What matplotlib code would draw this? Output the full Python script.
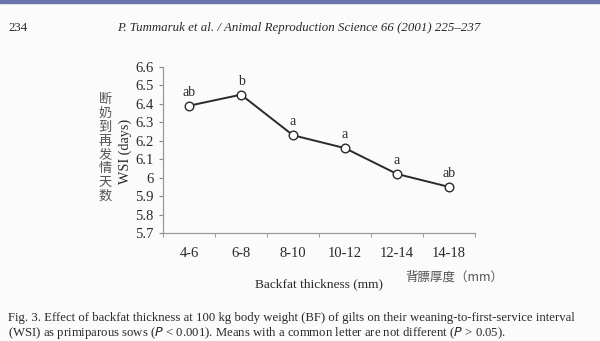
import matplotlib
matplotlib.use("Agg")
import matplotlib.pyplot as plt
from matplotlib.ticker import FixedLocator

# Weaning-to-service interval by backfat thickness class
categories = ["4-6", "6-8", "8-10", "10-12", "12-14", "14-18"]
wsi_days = [6.39, 6.45, 6.23, 6.16, 6.02, 5.95]
letters = ["ab", "b", "a", "a", "a", "ab"]
y_ticks = [5.7, 5.8, 5.9, 6.0, 6.1, 6.2, 6.3, 6.4, 6.5, 6.6]
y_tick_labels = ["5.7", "5.8", "5.9", "6", "6.1", "6.2", "6.3", "6.4", "6.5", "6.6"]

SERIF = "Liberation Serif"
CJK = ["Noto Sans CJK SC", "DejaVu Sans"]
INK = "#2a2a2a"
W, H = 600, 341

bg = "#fbfbfb"
fig = plt.figure(figsize=(W / 100, H / 100), dpi=100, facecolor=bg)

# page header band
fig.patches.append(plt.Rectangle((0, 1 - 3 / H), 1, 3 / H, transform=fig.transFigure,
                                 color="#6b73ad", zorder=0))
fig.text(8 / W, 1 - 28 / H, "234", fontsize=9.3, family=SERIF, color=INK, va="center")
fig.text(117 / W, 1 - 28 / H,
         "P. Tummaruk et al. / Animal Reproduction Science 66 (2001) 225\u2013237",
         fontsize=9.3, family=SERIF, style="italic", color=INK, va="center")

left, right = 163 / W, 475 / W
bottom, top = 1 - 233 / H, 1 - 67 / H
ax = fig.add_axes([left, bottom, right - left, top - bottom])
ax.set_facecolor(bg)

x = [i + 0.5 for i in range(len(categories))]
ax.plot(x, wsi_days, color=INK, lw=1.4, marker="o", markersize=6.2,
        markerfacecolor="white", markeredgecolor=INK, markeredgewidth=1.0, zorder=3)
for xi, yi, lab in zip(x, wsi_days, letters):
    ax.annotate(lab, (xi, yi), xytext=(0, 5), textcoords="offset points",
                ha="center", va="bottom", fontsize=10, family=SERIF, color=INK)

ax.set_xlim(0, len(categories))
ax.set_ylim(5.7, 6.6)
ax.set_yticks(y_ticks)
ax.set_yticklabels(y_tick_labels)
ax.set_xticks(x)
ax.set_xticklabels(categories)
ax.xaxis.set_minor_locator(FixedLocator(range(len(categories) + 1)))
ax.tick_params(axis="x", which="major", length=0, pad=10)
ax.tick_params(axis="x", which="minor", length=3, color="#888888", direction="out")
ax.tick_params(axis="y", length=3, color="#888888", pad=4)
for lab in ax.get_xticklabels() + ax.get_yticklabels():
    lab.set_fontfamily(SERIF)
    lab.set_fontsize(10.5)
    lab.set_color(INK)
for side in ("top", "right"):
    ax.spines[side].set_visible(False)
for side in ("left", "bottom"):
    ax.spines[side].set_color("#999999")
    ax.spines[side].set_linewidth(0.9)

# axis titles
fig.text(125 / W, 1 - 151 / H, "WSI (days)", rotation=90, fontsize=10.2, family=SERIF,
         color=INK, ha="center", va="center")
fig.text(105 / W, 1 - 148 / H, "\n".join("断奶到再发情天数"), fontsize=9.5,
         family=CJK, color="#555555", ha="center", va="center", linespacing=1.08)
fig.text(319 / W, 1 - 284 / H, "Backfat thickness (mm)", fontsize=9.6, family=SERIF,
         color=INK, ha="center", va="center")
fig.text(405 / W, 1 - 277 / H, "背膘厚度（mm）", fontsize=9, family=CJK,
         color="#555555", ha="left", va="center")

# figure caption
fig.text(8 / W, 1 - 318 / H,
         "Fig. 3. Effect of backfat thickness at 100 kg body weight (BF) of gilts on their "
         "weaning-to-first-service interval",
         fontsize=9.2, family=SERIF, color=INK, va="center")
fig.text(8 / W, 1 - 333 / H,
         "(WSI) as primiparous sows ($P$ < 0.001). Means with a common letter are not "
         "different ($P$ > 0.05).",
         fontsize=9.2, family=SERIF, color=INK, va="center")

fig.savefig("out.png", dpi=100, facecolor=bg)
